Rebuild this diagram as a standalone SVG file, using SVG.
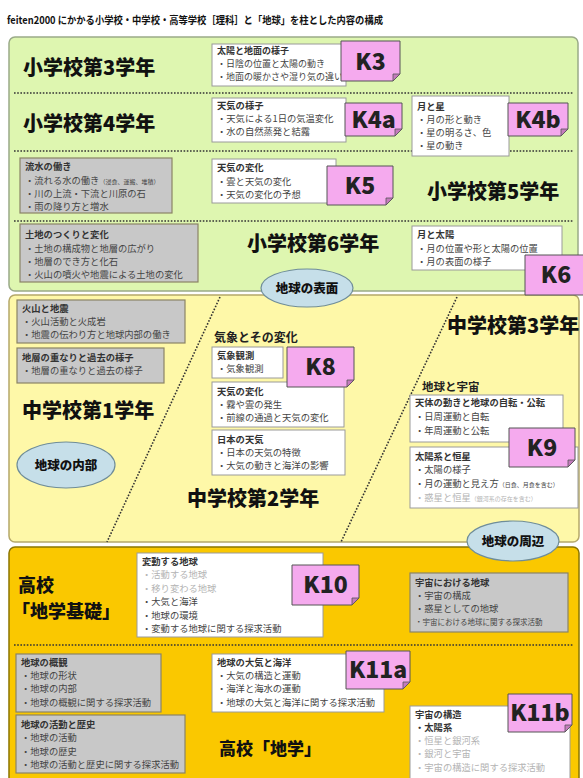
<svg xmlns="http://www.w3.org/2000/svg" width="583" height="778" viewBox="0 0 583 778">
<style>
text{font-family:"Noto Sans CJK JP","Noto Sans",sans-serif;}
.ttl{font-size:10.5px;font-weight:bold;fill:#111}
.h{font-size:20px;font-weight:900;fill:#111}
.bt{font-size:9.3px;font-weight:bold;fill:#333}
.ln{font-size:9.3px;fill:#444}
.gy{fill:#b4b4b4}
.sm{font-size:6px}
.k{font-size:23px;font-weight:900;fill:#222;text-anchor:middle}
.ell{fill:#c6dfe9;stroke:#6f8d99;stroke-width:1.2}
.et{font-size:12.5px;font-weight:900;fill:#111;text-anchor:middle}
.wb{fill:#fff;stroke:#9a9a9a;stroke-width:1}
.gb{fill:#c8c8c8;stroke:#8a8466;stroke-width:1.2}
.pk{fill:#f5aaee;stroke:#555;stroke-width:1}
.fold{fill:#c47bbd;stroke:#555;stroke-width:0.8}
.dot{stroke:#333;stroke-width:1.6;stroke-dasharray:1.6 1.6;fill:none}
</style>
<rect width="583" height="778" fill="#fff"/>
<text id="title" class="ttl" x="7" y="24" textLength="376" lengthAdjust="spacingAndGlyphs">feiten2000 にかかる小学校・中学校・高等学校［理科］と「地球」を柱とした内容の構成</text>

<!-- panels -->
<g id="panels">
<rect x="9" y="37" width="569" height="254" rx="6" fill="#def6b0" stroke="#9aaa88" stroke-width="1.5"/>
<rect x="9" y="295" width="570" height="247" rx="6" fill="#fef8a8" stroke="#b5a86a" stroke-width="1.5"/>
<rect x="9" y="547" width="570" height="245" rx="6" fill="#fac800" stroke="#8b7500" stroke-width="1.5"/>
</g>

<g id="connectors">
<line class="dot" x1="14" y1="93" x2="574" y2="93"/>
<line class="dot" x1="14" y1="151" x2="574" y2="151"/>
<line class="dot" x1="14" y1="221" x2="574" y2="221"/>
<line class="dot" x1="220" y1="297" x2="107" y2="542"/>
<line class="dot" x1="457" y1="297" x2="341" y2="542"/>
<line class="dot" x1="14" y1="645" x2="574" y2="645"/>
</g>

<!-- Elementary -->
<g id="e3">
<text class="h" x="23" y="75">小学校第3学年</text>
<rect class="wb" x="212" y="44" width="134" height="42"/>
<text class="bt" x="217" y="54" style="font-size:9px">太陽と地面の様子</text>
<text class="ln" x="217" y="67" style="font-size:9px">・日陰の位置と太陽の動き</text>
<text class="ln" x="217" y="80" style="font-size:9px">・地面の暖かさや湿り気の違い</text>
</g>
<g id="K3"><path class="pk" d="M341 41H400V74L393 81H341Z"/><path class="fold" d="M400 74L393 81L393 74Z"/><text class="k" x="370.5" y="69.5">K3</text></g>

<g id="e4">
<text class="h" x="23" y="131">小学校第4学年</text>
<rect class="wb" x="212" y="98" width="134" height="44"/>
<text class="bt" x="217" y="109">天気の様子</text>
<text class="ln" x="217" y="122">・天気による1日の気温変化</text>
<text class="ln" x="217" y="135">・水の自然蒸発と結露</text>
</g>
<g id="K4a"><path class="pk" d="M345 103H402V129L395 136H345Z"/><path class="fold" d="M402 129L395 136L395 129Z"/><text class="k" x="373.5" y="128">K4a</text></g>
<g id="e4b">
<rect class="wb" x="412" y="96" width="97" height="60"/>
<text class="bt" x="417" y="110">月と星</text>
<text class="ln" x="417" y="123">・月の形と動き</text>
<text class="ln" x="417" y="136">・星の明るさ、色</text>
<text class="ln" x="417" y="149">・星の動き</text>
</g>
<g id="K4b"><path class="pk" d="M508 103H568V129L561 136H508Z"/><path class="fold" d="M568 129L561 136L561 129Z"/><text class="k" x="538" y="128">K4b</text></g>

<g id="e5">
<rect class="gb" x="20" y="158" width="152" height="55"/>
<text class="bt" x="25" y="170">流水の働き</text>
<text class="ln" x="25" y="184">・流れる水の働き<tspan class="sm">（浸食、運搬、堆積）</tspan></text>
<text class="ln" x="25" y="197">・川の上流・下流と川原の石</text>
<text class="ln" x="25" y="210">・雨の降り方と増水</text>
<rect class="wb" x="212" y="159" width="124" height="44"/>
<text class="bt" x="217" y="171">天気の変化</text>
<text class="ln" x="217" y="185">・雲と天気の変化</text>
<text class="ln" x="217" y="198">・天気の変化の予想</text>
<text class="h" x="427" y="199">小学校第5学年</text>
</g>
<g id="K5"><path class="pk" d="M327 166H393V198L386 205H327Z"/><path class="fold" d="M393 198L386 205L386 198Z"/><text class="k" x="360" y="194">K5</text></g>

<g id="e6">
<rect class="gb" x="20" y="224" width="178" height="58"/>
<text class="bt" x="25" y="238">土地のつくりと変化</text>
<text class="ln" x="25" y="252">・土地の構成物と地層の広がり</text>
<text class="ln" x="25" y="265">・地層のでき方と化石</text>
<text class="ln" x="25" y="278">・火山の噴火や地震による土地の変化</text>
<text class="h" x="247" y="251">小学校第6学年</text>
<rect class="wb" x="412" y="226" width="150" height="44"/>
<text class="bt" x="417" y="238">月と太陽</text>
<text class="ln" x="417" y="252">・月の位置や形と太陽の位置</text>
<text class="ln" x="417" y="265">・月の表面の様子</text>
</g>
<g id="K6"><path class="pk" d="M525 255H590V295H525Z"/><text class="k" x="556" y="283">K6</text></g>

<g id="surface"><ellipse class="ell" cx="307" cy="288" rx="46" ry="19"/><text class="et" x="307" y="292.5">地球の表面</text></g>

<!-- Junior high -->
<g id="j1">
<rect class="gb" x="17" y="300" width="168" height="43"/>
<text class="bt" x="22" y="312">火山と地震</text>
<text class="ln" x="22" y="325">・火山活動と火成岩</text>
<text class="ln" x="22" y="338">・地震の伝わり方と地球内部の働き</text>
<rect class="gb" x="17" y="348" width="147" height="35"/>
<text class="bt" x="22" y="361">地層の重なりと過去の様子</text>
<text class="ln" x="22" y="374">・地層の重なりと過去の様子</text>
<text class="h" x="22" y="418">中学校第1学年</text>
</g>
<g id="interior"><ellipse class="ell" cx="66" cy="465" rx="49" ry="23"/><text class="et" x="66" y="469.5">地球の内部</text></g>

<g id="j2">
<text x="214" y="342" style="font-size:12px;font-weight:bold;fill:#222">気象とその変化</text>
<rect class="wb" x="212" y="347" width="71" height="31"/>
<text class="bt" x="217" y="359">気象観測</text>
<text class="ln" x="217" y="372">・気象観測</text>
<rect class="wb" x="212" y="382" width="132" height="45"/>
<text class="bt" x="217" y="395">天気の変化</text>
<text class="ln" x="217" y="408">・霧や雲の発生</text>
<text class="ln" x="217" y="421">・前線の通過と天気の変化</text>
<rect class="wb" x="212" y="430" width="133" height="45"/>
<text class="bt" x="217" y="443">日本の天気</text>
<text class="ln" x="217" y="456">・日本の天気の特徴</text>
<text class="ln" x="217" y="469">・大気の動きと海洋の影響</text>
<text class="h" x="187" y="506">中学校第2学年</text>
</g>
<g id="K8"><path class="pk" d="M287 347H354V380L347 387H287Z"/><path class="fold" d="M354 380L347 387L347 380Z"/><text class="k" x="320.5" y="375">K8</text></g>

<g id="j3">
<text class="h" x="447" y="333">中学校第3学年</text>
<text x="422" y="391" style="font-size:11.5px;font-weight:bold;fill:#222">地球と宇宙</text>
<rect class="wb" x="410" y="395" width="153" height="47"/>
<text class="bt" x="415" y="406">天体の動きと地球の自転・公転</text>
<text class="ln" x="415" y="420">・日周運動と自転</text>
<text class="ln" x="415" y="434">・年周運動と公転</text>
<rect class="wb" x="410" y="447" width="168" height="61"/>
<text class="bt" x="415" y="460">太陽系と恒星</text>
<text class="ln" x="415" y="473">・太陽の様子</text>
<text class="ln" x="415" y="487">・月の運動と見え方<tspan class="sm">（日食、月食を含む）</tspan></text>
<text class="ln gy" x="415" y="501">・惑星と恒星<tspan class="sm">（銀河系の存在を含む）</tspan></text>
</g>
<g id="K9"><path class="pk" d="M509 428H575V460L568 467H509Z"/><path class="fold" d="M575 460L568 467L568 460Z"/><text class="k" x="542" y="456">K9</text></g>

<g id="periphery"><ellipse class="ell" cx="513" cy="541" rx="46" ry="20"/><text class="et" x="513" y="545.5">地球の周辺</text></g>

<!-- High school -->
<g id="hs-basic">
<text class="h" x="18" y="592" style="font-size:18px">高校</text>
<text class="h" x="12" y="618" style="font-size:18px">「地学基礎」</text>
<rect class="wb" x="137" y="553" width="186" height="84"/>
<text class="bt" x="142" y="565">変動する地球</text>
<text class="ln gy" x="142" y="578">・活動する地球</text>
<text class="ln gy" x="142" y="592">・移り変わる地球</text>
<text class="ln" x="142" y="605">・大気と海洋</text>
<text class="ln" x="142" y="619">・地球の環境</text>
<text class="ln" x="142" y="632">・変動する地球に関する探求活動</text>
<rect class="gb" x="410" y="573" width="158" height="59"/>
<text class="bt" x="415" y="586">宇宙における地球</text>
<text class="ln" x="415" y="599">・宇宙の構成</text>
<text class="ln" x="415" y="612">・惑星としての地球</text>
<text class="ln" x="415" y="625" style="font-size:7.5px">・宇宙における地球に関する探求活動</text>
</g>
<g id="K10"><path class="pk" d="M292 565H359V598L352 605H292Z"/><path class="fold" d="M359 598L352 605L352 598Z"/><text class="k" x="325.5" y="593">K10</text></g>

<g id="hs-earth">
<rect class="gb" x="16" y="654" width="145" height="58"/>
<text class="bt" x="21" y="666">地球の概観</text>
<text class="ln" x="21" y="679">・地球の形状</text>
<text class="ln" x="21" y="692">・地球の内部</text>
<text class="ln" x="21" y="706">・地球の概観に関する探求活動</text>
<rect class="gb" x="16" y="715" width="169" height="58"/>
<text class="bt" x="21" y="728">地球の活動と歴史</text>
<text class="ln" x="21" y="741">・地球の活動</text>
<text class="ln" x="21" y="755">・地球の歴史</text>
<text class="ln" x="21" y="768">・地球の活動と歴史に関する探求活動</text>
<rect class="wb" x="212" y="654" width="172" height="58"/>
<text class="bt" x="217" y="666">地球の大気と海洋</text>
<text class="ln" x="217" y="679">・大気の構造と運動</text>
<text class="ln" x="217" y="692">・海洋と海水の運動</text>
<text class="ln" x="217" y="706">・地球の大気と海洋に関する探求活動</text>
<text x="270" y="755" style="font-size:17px;font-weight:900;fill:#111;text-anchor:middle">高校「地学」</text>
<rect class="wb" x="410" y="706" width="160" height="80"/>
<text class="bt" x="415" y="718">宇宙の構造</text>
<text class="ln" x="415" y="731" style="font-weight:bold;fill:#333">・太陽系</text>
<text class="ln gy" x="415" y="744">・恒星と銀河系</text>
<text class="ln gy" x="415" y="757">・銀河と宇宙</text>
<text class="ln gy" x="415" y="771">・宇宙の構造に関する探求活動</text>
</g>
<g id="K11a"><path class="pk" d="M346 651H410V682L403 689H346Z"/><path class="fold" d="M410 682L403 689L403 682Z"/><text class="k" x="378" y="678">K11a</text></g>
<g id="K11b"><path class="pk" d="M508 694H572V725L565 732H508Z"/><path class="fold" d="M572 725L565 732L565 725Z"/><text class="k" x="540" y="721">K11b</text></g>
</svg>
